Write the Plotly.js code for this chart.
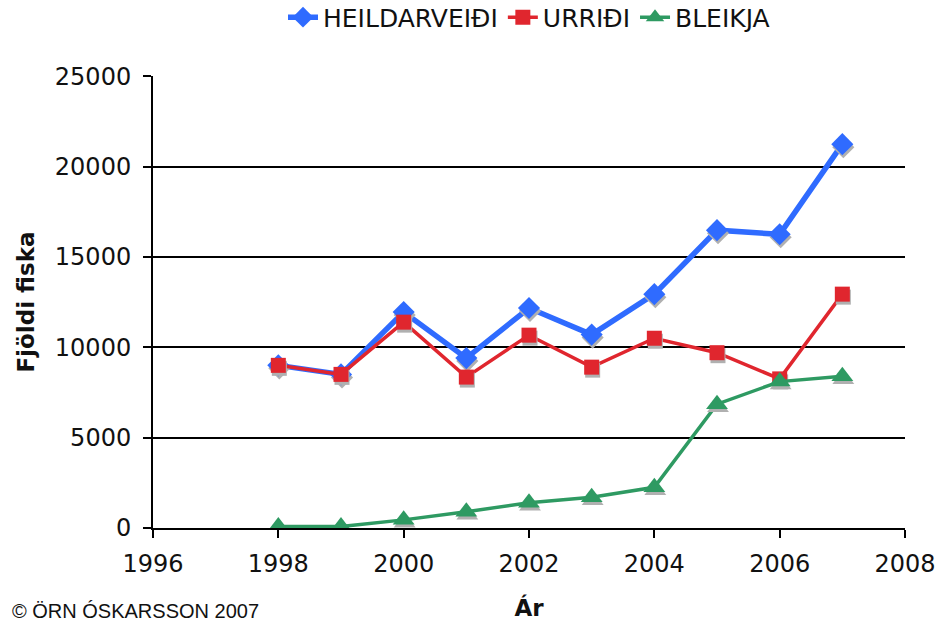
<!DOCTYPE html>
<html>
<head>
<meta charset="utf-8">
<script src="https://cdn.plot.ly/plotly-3.0.1.min.js"></script>
<style>
html,body{margin:0;padding:0;background:#fff;}
#chart{width:941px;height:624px;}
.scatterlayer .trace .points path{filter:drop-shadow(1px 3px 0px #b0b0b0);}
</style>
</head>
<body>
<div id="chart"></div>
<script>
const years = [1998, 1999, 2000, 2001, 2002, 2003, 2004, 2005, 2006, 2007];
const heildarveidi = [9000, 8500, 11950, 9400, 12170, 10700, 12940, 16480, 16250, 21240];
const urridi = [9000, 8500, 11390, 8350, 10670, 8900, 10500, 9700, 8250, 12940];
const bleikja = [80, 80, 450, 900, 1400, 1700, 2250, 6850, 8100, 8400];
const seriesNames = ["HEILDARVEIÐI", "URRIÐI", "BLEIKJA"];
const xTicks = [1996, 1998, 2000, 2002, 2004, 2006, 2008];
const yTicks = [0, 5000, 10000, 15000, 20000, 25000];

const FONT = "DejaVu Sans, Verdana, sans-serif";

const traces = [
  {x: years, y: heildarveidi, name: seriesNames[0], mode: "lines+markers",
   line: {color: "#2f6bff", width: 5.5}, marker: {symbol: "diamond", size: 17, color: "#2f6bff"}},
  {x: years, y: urridi, name: seriesNames[1], mode: "lines+markers",
   line: {color: "#e0262e", width: 3.5}, marker: {symbol: "square", size: 15, color: "#e0262e"}},
  {x: years, y: bleikja, name: seriesNames[2], mode: "lines+markers",
   line: {color: "#2e9a62", width: 3.5}, marker: {symbol: "triangle-up", size: 19, color: "#2e9a62"}}
];

const layout = {
  width: 941, height: 624,
  margin: {l: 153, r: 36, t: 76, b: 96},
  paper_bgcolor: "#fff", plot_bgcolor: "#fff",
  font: {family: FONT, color: "#111", size: 24},
  showlegend: true,
  legend: {orientation: "h", x: 0.5, xanchor: "center", xref: "paper",
           y: 0.972, yanchor: "middle", yref: "container",
           font: {size: 25, family: FONT}, tracegroupgap: 0},
  xaxis: {
    range: [1996, 2008], tickvals: xTicks, ticktext: xTicks.map(String),
    showgrid: false, zeroline: false, showline: true, linecolor: "#000", linewidth: 2,
    ticks: "outside", ticklen: 8, tickcolor: "#000", tickwidth: 2, ticklabelstandoff: 5,
    tickfont: {size: 24}, automargin: false,
    title: {text: "<b>Ár</b>", font: {size: 23, family: FONT}, standoff: 23}
  },
  yaxis: {
    range: [0, 25010], tickvals: yTicks, ticktext: yTicks.map(String),
    showgrid: true, gridcolor: "#000", gridwidth: 2, zeroline: false,
    showline: true, linecolor: "#000", linewidth: 2,
    ticks: "outside", ticklen: 8, tickcolor: "#000", tickwidth: 2, ticklabelstandoff: 7,
    tickfont: {size: 24}, automargin: false,
    title: {text: "<b>Fjöldi fiska</b>", font: {size: 23, family: FONT}, standoff: 14}
  },
  annotations: [{
    text: "© ÖRN ÓSKARSSON 2007", xref: "paper", yref: "paper", x: -0.19, y: -0.2124,
    xanchor: "left", yanchor: "bottom", showarrow: false,
    font: {family: "Liberation Sans, Arial, sans-serif", size: 20, color: "#111"}
  }]
};

Plotly.newPlot("chart", traces, layout, {displayModeBar: false, staticPlot: true});
</script>
</body>
</html>
